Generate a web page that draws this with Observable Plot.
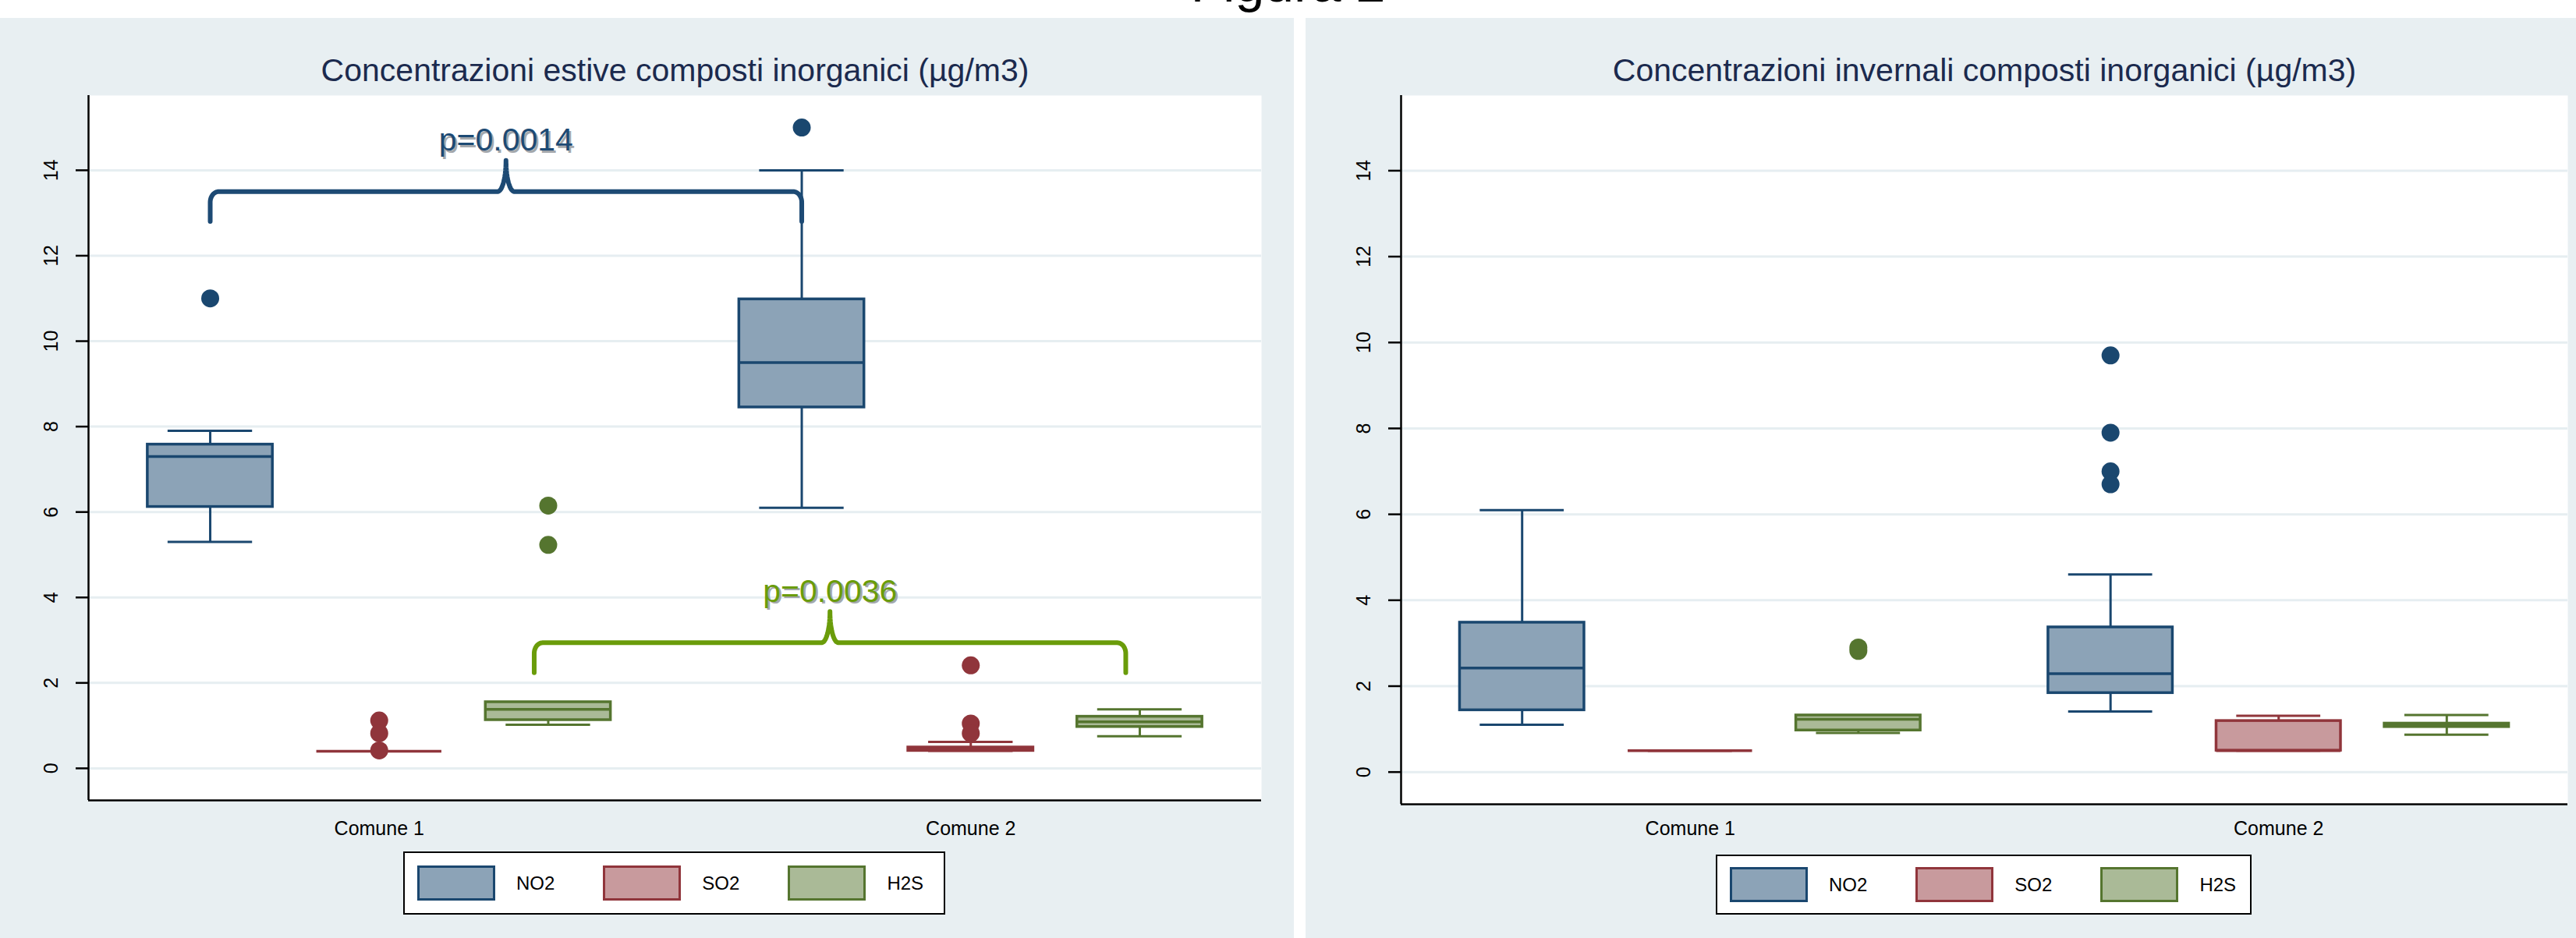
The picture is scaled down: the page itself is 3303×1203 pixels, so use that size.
<!DOCTYPE html>
<html><head><meta charset="utf-8">
<script src="https://cdn.jsdelivr.net/npm/d3@7"></script>
<script src="https://cdn.jsdelivr.net/npm/@observablehq/plot@0.6"></script>
<style>
html,body{margin:0;padding:0;background:#fff;}
body{width:3303px;height:1203px;position:relative;overflow:hidden;font-family:"Liberation Sans",Arial,Helvetica,sans-serif;}
.panel{position:absolute;top:23px;height:1180px;background:#e8eff2;}
.panel svg{position:absolute;left:0;top:0;}
.figtitle{position:absolute;left:0;top:-56px;width:3303px;text-align:center;font-size:68px;line-height:68px;color:#000;}
.legend{position:absolute;box-sizing:border-box;border:2.5px solid #000;background:#fff;display:flex;align-items:center;padding-left:16px;}
.sw{box-sizing:border-box;width:100px;height:45px;border:3.5px solid;}
.lab{font-size:24px;color:#000;margin-left:27px;margin-right:62px;}
.lab:last-child{margin-right:0;}
</style></head><body>
<div class="figtitle">Figura 2</div>
<div id="p1" class="panel" style="left:0;width:1659px"></div>
<div id="p2" class="panel" style="left:1674px;width:1629px"></div>
<script>
// ---------- data ----------
const groups = ["Comune 1", "Comune 2"];
const pollutants = ["NO2", "SO2", "H2S"];
const yTicks = [0, 2, 4, 6, 8, 10, 12, 14];

const summerTitle = "Concentrazioni estive composti inorganici (µg/m3)";
const winterTitle = "Concentrazioni invernali composti inorganici (µg/m3)";

// order: Comune 1 NO2, SO2, H2S, Comune 2 NO2, SO2, H2S
const summerLo  = [5.3, 0.4, 1.02, 6.1, 0.41, 0.75];
const summerQ1  = [6.12, 0.4, 1.13, 8.45, 0.41, 0.97];
const summerMed = [7.3, 0.4, 1.38, 9.5, 0.45, 1.09];
const summerQ3  = [7.58, 0.4, 1.55, 10.98, 0.49, 1.21];
const summerHi  = [7.9, 0.4, 1.55, 14.0, 0.62, 1.38];
const summerOut = [[11.0], [1.12, 0.82, 0.42], [6.15, 5.23], [15.0], [2.41, 1.05, 0.82], []];

const winterLo  = [1.1, 0.5, 0.91, 1.41, 0.5, 0.87];
const winterQ1  = [1.44, 0.5, 0.97, 1.84, 0.5, 1.05];
const winterMed = [2.42, 0.5, 1.23, 2.29, 0.5, 1.09];
const winterQ3  = [3.48, 0.5, 1.32, 3.37, 1.19, 1.13];
const winterHi  = [6.1, 0.5, 1.32, 4.6, 1.31, 1.33];
const winterOut = [[], [], [2.82, 2.9], [9.7, 7.9, 7.0, 6.7], [], []];

const testLabels = ["p=0.0014", "p=0.0036"];
const testPollutant = ["NO2", "H2S"];
const testLevel = [13.5, 2.94];

// ---------- styles ----------
const lineColor = {NO2: "#1a476f", SO2: "#90353b", H2S: "#55752f"};
const fillColor = {NO2: "#8ca3b7", SO2: "#c89a9d", H2S: "#aaba97"};
const braceColor = ["#1d4a74", "#6a9c0a"];
const braceDx = [0, -18];
const FONT = "Liberation Sans, Arial, Helvetica, sans-serif";
const xDomain = [-0.72, 6.22];
const yDomain = [-0.75, 15.75];
const HB = 0.37, HC = 0.25;
const braceShape = {drop: 0.7, rise: 0.73, rx: 0.05, ry: 0.25, cw: 0.05};

const step = pollutants.length + 0.5;
const posOf = (gi, pi) => gi * step + pi;

function buildRecords(lo, q1, med, q3, hi, out) {
  const recs = [], dots = [];
  groups.forEach((g, gi) => pollutants.forEach((p, pi) => {
    const k = gi * pollutants.length + pi;
    const pos = posOf(gi, pi);
    recs.push({group: g, pollutant: p, pos, lo: lo[k], q1: q1[k], med: med[k], q3: q3[k], hi: hi[k]});
    out[k].forEach(v => dots.push({pollutant: p, pos, value: v}));
  }));
  return {recs, dots};
}

function bracePts(xa, xb, level) {
  const {drop, rise, rx, ry, cw} = braceShape;
  const N = 14, xm = (xa + xb) / 2, pts = [];
  pts.push({x: xa, y: level - drop});
  for (let k = 0; k <= N; k++) { const t = k / N * Math.PI / 2; pts.push({x: xa + rx * (1 - Math.cos(t)), y: level - ry + ry * Math.sin(t)}); }
  for (let k = 0; k <= N; k++) { const t = k / N * Math.PI / 2; pts.push({x: xm - cw + cw * Math.sin(t), y: level + rise * (1 - Math.cos(t))}); }
  for (let k = N; k >= 0; k--) { const t = k / N * Math.PI / 2; pts.push({x: xm + cw - cw * Math.sin(t), y: level + rise * (1 - Math.cos(t))}); }
  for (let k = N; k >= 0; k--) { const t = k / N * Math.PI / 2; pts.push({x: xb - rx * (1 - Math.cos(t)), y: level - ry + ry * Math.sin(t)}); }
  pts.push({x: xb, y: level - drop});
  return pts;
}

function makePanel({title, data, width, height, marginLeft, marginRight, marginTop, marginBottom, labelDy, tests}) {
  const {recs, dots} = data;
  const sc = d => lineColor[d.pollutant];
  const marks = [
    Plot.frame({fill: "#fff", stroke: null}),
    Plot.gridY(yTicks, {stroke: "#e6eef1", strokeWidth: 3, strokeOpacity: 1}),
    Plot.axisY(yTicks, {tickSize: 16, tickFormat: () => "", stroke: "#000", strokeWidth: 2.5, label: null}),
    Plot.text(yTicks, {y: d => d, frameAnchor: "left", textAnchor: "middle", lineAnchor: "middle", dx: -48, rotate: -90, text: d => String(d), fontSize: 25, fill: "#000"}),
    Plot.ruleX([xDomain[0]], {stroke: "#000", strokeWidth: 2.5}),
    Plot.ruleY([yDomain[0]], {stroke: "#000", strokeWidth: 2.5}),
    Plot.ruleX(recs, {x: "pos", y1: "q3", y2: "hi", stroke: sc, strokeWidth: 3}),
    Plot.ruleX(recs, {x: "pos", y1: "lo", y2: "q1", stroke: sc, strokeWidth: 3}),
    Plot.ruleY(recs, {y: "hi", x1: d => d.pos - HC, x2: d => d.pos + HC, stroke: sc, strokeWidth: 3}),
    Plot.ruleY(recs, {y: "lo", x1: d => d.pos - HC, x2: d => d.pos + HC, stroke: sc, strokeWidth: 3}),
    Plot.rect(recs, {x1: d => d.pos - HB, x2: d => d.pos + HB, y1: "q1", y2: "q3", fill: d => fillColor[d.pollutant], stroke: sc, strokeWidth: 3.5}),
    Plot.ruleY(recs, {y: "med", x1: d => d.pos - HB, x2: d => d.pos + HB, stroke: sc, strokeWidth: 3.5}),
    Plot.dot(dots, {x: "pos", y: "value", r: 11.5, fill: sc, stroke: null}),
    Plot.text(groups, {x: (d, i) => posOf(i, (pollutants.length - 1) / 2), frameAnchor: "bottom", lineAnchor: "middle", dy: labelDy, text: d => d, fontSize: 25, fill: "#000"}),
    Plot.text([title], {frameAnchor: "top", lineAnchor: "middle", dy: -32, text: d => d, fontSize: 41, fill: "#1b2a4e"})
  ];
  (tests || []).forEach((t, i) => {
    const pi = pollutants.indexOf(t.pollutant);
    const xa = posOf(0, pi), xb = posOf(1, pi);
    const pts = bracePts(xa, xb, t.level);
    const lab = [{x: (xa + xb) / 2, y: t.level + braceShape.rise, label: t.label}];
    marks.push(Plot.line(pts, {x: "x", y: "y", stroke: braceColor[i], strokeWidth: 6, strokeLinejoin: "round", dx: braceDx[i]}));
    marks.push(Plot.text(lab, {x: "x", y: "y", text: "label", lineAnchor: "bottom", dy: -10, dx: braceDx[i] + 2.5, fontSize: 41, fill: "#a4a8ac"}));
    marks.push(Plot.text(lab, {x: "x", y: "y", text: "label", lineAnchor: "bottom", dy: -12.5, dx: braceDx[i], fontSize: 41, fill: braceColor[i]}));
  });
  return Plot.plot({
    width, height, marginLeft, marginRight, marginTop, marginBottom,
    x: {domain: xDomain, axis: null},
    y: {domain: yDomain},
    color: {type: "identity"},
    style: {background: "transparent", fontFamily: FONT, overflow: "visible"},
    marks
  });
}

function makeLegend(left, top, width, height) {
  const div = document.createElement("div");
  div.className = "legend";
  Object.assign(div.style, {left: left + "px", top: top + "px", width: width + "px", height: height + "px"});
  pollutants.forEach(p => {
    const sw = document.createElement("div");
    sw.className = "sw";
    sw.style.background = fillColor[p];
    sw.style.borderColor = lineColor[p];
    const lab = document.createElement("div");
    lab.className = "lab";
    lab.textContent = p;
    div.appendChild(sw); div.appendChild(lab);
  });
  return div;
}

const tests = testLabels.map((label, i) => ({label, pollutant: testPollutant[i], level: testLevel[i]}));

const p1 = document.getElementById("p1");
p1.appendChild(makePanel({
  title: summerTitle,
  data: buildRecords(summerLo, summerQ1, summerMed, summerQ3, summerHi, summerOut),
  width: 1659, height: 1065, marginLeft: 113, marginRight: 42, marginTop: 99, marginBottom: 62, labelDy: 36,
  tests
}));
p1.appendChild(makeLegend(517, 1069, 695, 81));

const p2 = document.getElementById("p2");
p2.appendChild(makePanel({
  title: winterTitle,
  data: buildRecords(winterLo, winterQ1, winterMed, winterQ3, winterHi, winterOut),
  width: 1629, height: 1065, marginLeft: 122, marginRight: 11, marginTop: 99, marginBottom: 57, labelDy: 31
}));
p2.appendChild(makeLegend(526, 1073, 687, 77));
</script></body></html>
